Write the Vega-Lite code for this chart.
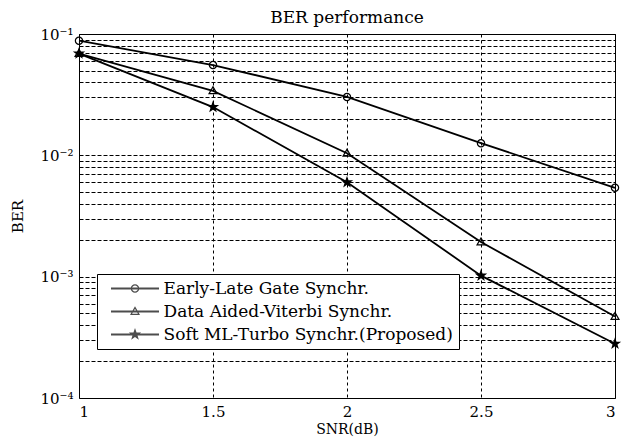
{
  "$schema": "https://vega.github.io/schema/vega-lite/v6.json",
  "width": 536,
  "height": 364,
  "autosize": {"type": "none"},
  "padding": {"left": 79, "top": 34, "right": 8, "bottom": 47},
  "background": "white",
  "title": {"text": "BER performance", "font": "DejaVu Serif", "fontSize": 17, "fontWeight": "normal", "color": "black", "anchor": "middle", "offset": 0},
  "data": {"values": [
    {"snr": 1, "ber": 0.088, "series": "Early-Late Gate Synchr."},
    {"snr": 1.5, "ber": 0.0555, "series": "Early-Late Gate Synchr."},
    {"snr": 2, "ber": 0.0303, "series": "Early-Late Gate Synchr."},
    {"snr": 2.5, "ber": 0.0126, "series": "Early-Late Gate Synchr."},
    {"snr": 3, "ber": 0.0054, "series": "Early-Late Gate Synchr."},
    {"snr": 1, "ber": 0.069, "series": "Data Aided-Viterbi Synchr."},
    {"snr": 1.5, "ber": 0.034, "series": "Data Aided-Viterbi Synchr."},
    {"snr": 2, "ber": 0.0104, "series": "Data Aided-Viterbi Synchr."},
    {"snr": 2.5, "ber": 0.00193, "series": "Data Aided-Viterbi Synchr."},
    {"snr": 3, "ber": 0.00047, "series": "Data Aided-Viterbi Synchr."},
    {"snr": 1, "ber": 0.069, "series": "Soft ML-Turbo Synchr.(Proposed)"},
    {"snr": 1.5, "ber": 0.025, "series": "Soft ML-Turbo Synchr.(Proposed)"},
    {"snr": 2, "ber": 0.006, "series": "Soft ML-Turbo Synchr.(Proposed)"},
    {"snr": 2.5, "ber": 0.00102, "series": "Soft ML-Turbo Synchr.(Proposed)"},
    {"snr": 3, "ber": 0.00028, "series": "Soft ML-Turbo Synchr.(Proposed)"}
  ]},
  "encoding": {
    "x": {"field": "snr", "type": "quantitative",
      "scale": {"domain": [1, 3], "nice": false, "zero": false},
      "axis": {"values": [1, 1.5, 2, 2.5, 3], "format": "~g", "title": "SNR(dB)", "grid": true, "gridDash": [3, 3], "gridColor": "black", "gridOpacity": 1, "labelPadding": 6, "titlePadding": 3, "titleFontSize": 14}},
    "y": {"field": "ber", "type": "quantitative",
      "scale": {"type": "log", "domain": [0.0001, 0.1], "nice": false},
      "axis": {"values": [0.0001,0.0002,0.0003,0.0004,0.0005,0.0006,0.0007,0.0008,0.0009,0.001,0.002,0.003,0.004,0.005,0.006,0.007,0.008,0.009,0.01,0.02,0.03,0.04,0.05,0.06,0.07,0.08,0.09,0.1],
        "labelExpr": "abs(log(datum.value)/LN10 - round(log(datum.value)/LN10)) < 0.000001 ? (round(log(datum.value)/LN10) == -1 ? '10⁻¹' : round(log(datum.value)/LN10) == -2 ? '10⁻²' : round(log(datum.value)/LN10) == -3 ? '10⁻³' : '10⁻⁴') : ''",
        "title": "BER", "grid": true, "gridDash": [4, 2], "gridColor": "black", "gridOpacity": 1, "labelPadding": 6, "titlePadding": 14, "labelOverlap": false}}
  },
  "layer": [
    {
      "mark": {"type": "line", "color": "black", "strokeWidth": 1.8},
      "encoding": {"detail": {"field": "series", "type": "nominal"}}
    },
    {
      "mark": {"type": "point", "filled": true, "color": "black", "size": 100, "strokeWidth": 0, "opacity": 1},
      "encoding": {
        "shape": {"field": "series", "type": "nominal",
          "scale": {"domain": ["Early-Late Gate Synchr.", "Data Aided-Viterbi Synchr.", "Soft ML-Turbo Synchr.(Proposed)"],
            "range": [
              "M0.85,0A0.85,0.85 0 1,1 -0.85,0A0.85,0.85 0 1,1 0.85,0ZM0.6,0A0.6,0.6 0 1,0 -0.6,0A0.6,0.6 0 1,0 0.6,0Z",
              "M0,-1.05L1,0.7L-1,0.7ZM0,-0.55L-0.58,0.45L0.58,0.45Z",
              "M0,-1.3L0.306,-0.421L1.236,-0.402L0.495,0.161L0.764,1.052L0,0.52L-0.764,1.052L-0.495,0.161L-1.236,-0.402L-0.306,-0.421Z"
            ]},
          "legend": null}
      }
    },
    {
      "transform": [{"filter": "false"}],
      "mark": {"type": "point", "filled": true, "color": "black", "strokeWidth": 0},
      "encoding": {
        "shape": {"field": "series", "type": "nominal",
          "scale": {"domain": ["Early-Late Gate Synchr.", "Data Aided-Viterbi Synchr.", "Soft ML-Turbo Synchr.(Proposed)"],
            "range": [
              "M-4.8,-0.2H4.8V0.2H-4.8ZM0.85,0A0.85,0.85 0 1,1 -0.85,0A0.85,0.85 0 1,1 0.85,0ZM0.6,0A0.6,0.6 0 1,0 -0.6,0A0.6,0.6 0 1,0 0.6,0Z",
              "M-4.8,-0.2H4.8V0.2H-4.8ZM0,-1.05L1,0.7L-1,0.7ZM0,-0.55L-0.58,0.45L0.58,0.45Z",
              "M-4.8,-0.2H4.8V0.2H-4.8ZM0,-1.3L0.306,-0.421L1.236,-0.402L0.495,0.161L0.764,1.052L0,0.52L-0.764,1.052L-0.495,0.161L-1.236,-0.402L-0.306,-0.421Z"
            ]},
          "legend": {"title": null, "orient": "none", "legendX": 18, "legendY": 240, "padding": 6, "symbolSize": 100, "symbolOffset": 23.5, "labelOffset": 20, "labelFont": "DejaVu Serif", "labelFontSize": 17, "labelColor": "black", "strokeColor": "black", "fillColor": "white", "rowPadding": 5, "symbolStrokeWidth": 0, "symbolFillColor": "black", "labelLimit": 0}}
      }
    }
  ],
  "resolve": {"scale": {"shape": "independent"}, "legend": {"shape": "independent"}},
  "config": {
    "view": {"stroke": "black", "strokeWidth": 1},
    "axis": {"labelFont": "DejaVu Serif", "labelFontSize": 15, "labelColor": "black", "titleFont": "DejaVu Serif", "titleFontSize": 15, "titleFontWeight": "normal", "titleColor": "black", "domain": false, "ticks": false}
  }
}
